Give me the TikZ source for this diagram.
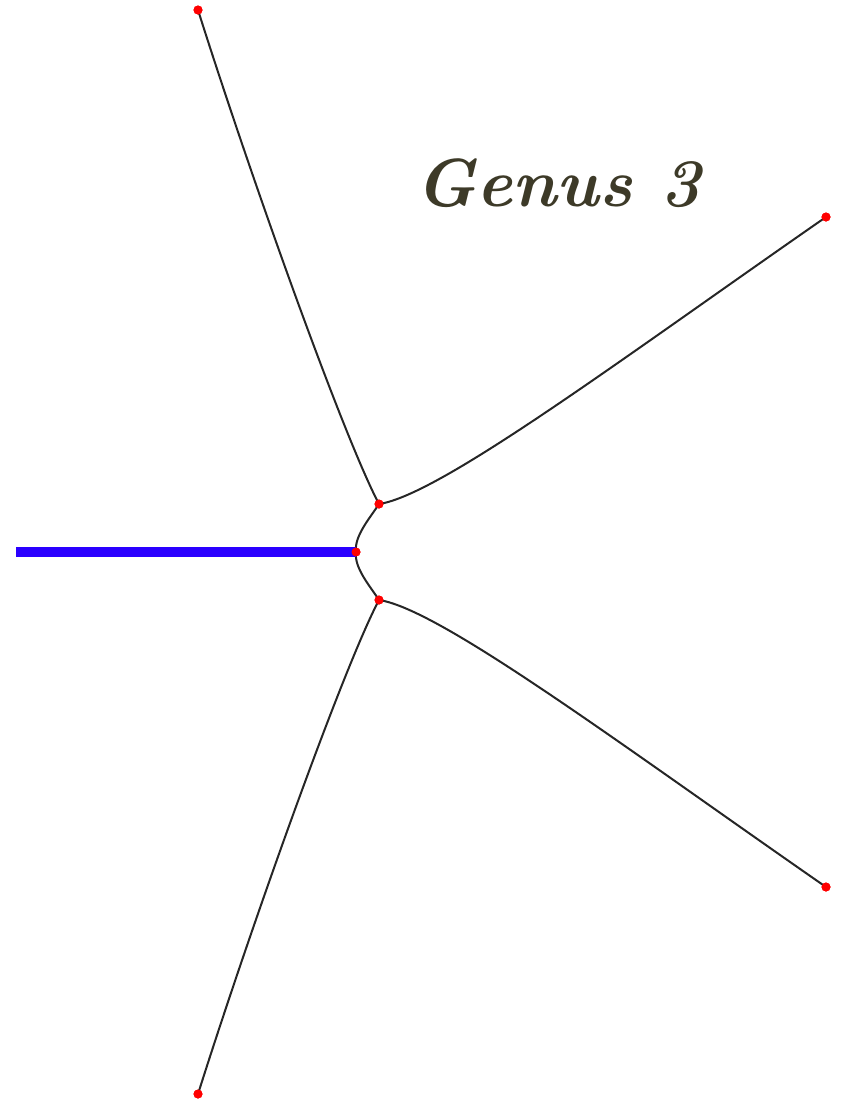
\documentclass[tikz,border=0pt]{standalone}
\begin{document}
\begin{tikzpicture}[x=1pt,y=-1pt,
  curve/.style={draw=black!85,line width=2pt},
  vtx/.style={circle,fill=red,inner sep=0pt,minimum size=9pt},
  title/.style={text=titlecol,font=\fontsize{68}{80}\selectfont\bfseries\itshape}]
\definecolor{titlecol}{HTML}{3D3A28}
\definecolor{bluecut}{HTML}{2A00FF}
\useasboundingbox (0,0) rectangle (844,1104);
\coordinate (W) at (16,552);
\node[vtx] (A) at (198,10) {};
\node[vtx] (B) at (826,217) {};
\node[vtx] (C) at (826,887) {};
\node[vtx] (D) at (198,1094) {};
\node[vtx] (U) at (379,504) {};
\node[vtx] (M) at (356,552) {};
\node[vtx] (L) at (379,600) {};
\draw[curve] (A.center) .. controls (255,190) and (345,440) .. (U.center);
\draw[curve] (U.center) .. controls (440,495) and (620,360) .. (B.center);
\draw[curve] (L.center) .. controls (440,609) and (620,744) .. (C.center);
\draw[curve] (D.center) .. controls (255,914) and (345,664) .. (L.center);
\draw[curve] (U.center) .. controls (370,518) and (354,536) .. (M.center);
\draw[curve] (M.center) .. controls (354,568) and (370,586) .. (L.center);
\draw[draw=bluecut,line width=10pt] (W) -- (M.center);
\node[vtx] at (A) {};
\node[vtx] at (B) {};
\node[vtx] at (C) {};
\node[vtx] at (D) {};
\node[vtx] at (U) {};
\node[vtx] at (M) {};
\node[vtx] at (L) {};
\node[title] (T) at (558,183) {Genus 3};
\end{tikzpicture}
\end{document}
